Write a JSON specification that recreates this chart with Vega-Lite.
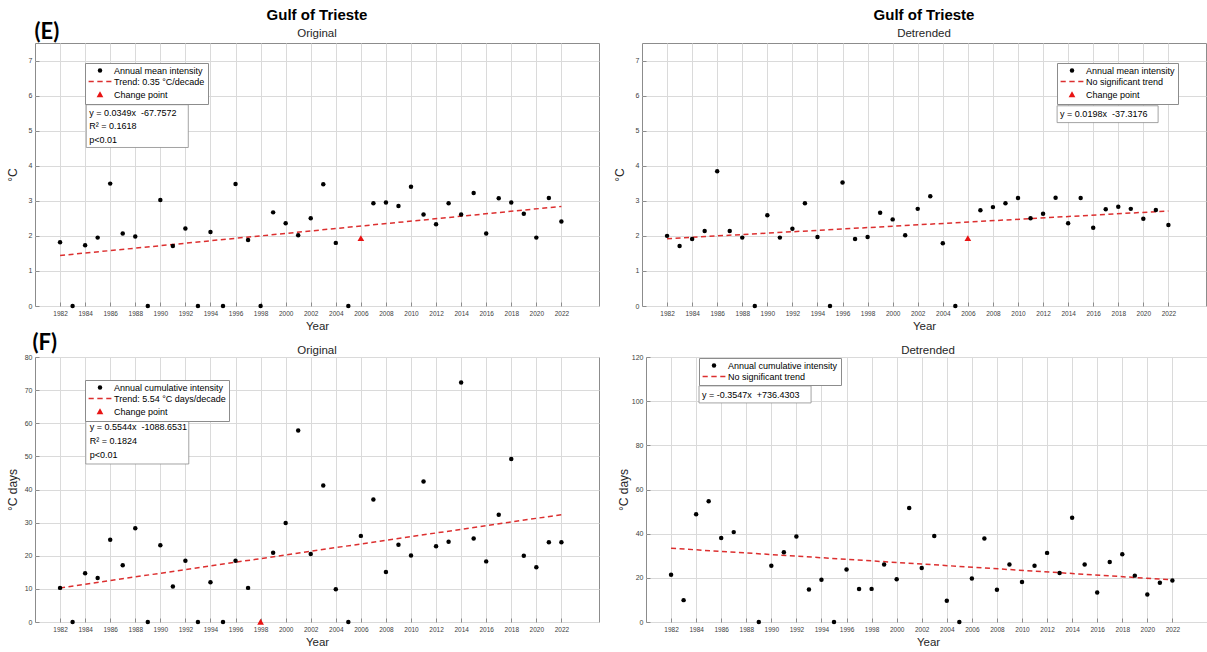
{
  "$schema": "https://vega.github.io/schema/vega-lite/v6.json",
  "padding": {"left": 5, "top": 7, "right": 0, "bottom": 0},
  "background": "white",
  "spacing": -1,
  "resolve": {"scale": {"fill": "independent", "stroke": "independent", "shape": "independent"}},
  "config": {
    "font": "Liberation Sans",
    "view": {"stroke": "#8c8c8c", "strokeWidth": 1},
    "axis": {"grid": true, "tickCount": 100, "labelOverlap": false, "labelFontSize": 6.5, "labelColor": "#404040", "titleFontSize": 11.5, "titleFontWeight": "normal", "titleColor": "#262626", "gridColor": "#dadada", "gridWidth": 1, "domain": false, "tickSize": -4, "tickColor": "#8c8c8c", "labelPadding": 8, "titlePadding": 4},
    "axisY": {"titleFontSize": 12, "titlePadding": 3, "labelFontSize": 7, "labelPadding": 7, "minExtent": 13, "maxExtent": 13, "format": "d"},
    "legend": {"orient": "none", "padding": 3, "strokeColor": "#8c8c8c", "fillColor": "white", "labelFontSize": 9, "labelColor": "black", "symbolSize": 20, "symbolOffset": 7.5, "labelOffset": 9.5, "rowPadding": 1, "labelLimit": 400, "symbolStrokeWidth": 1.6},
    "title": {"font": "Liberation Sans", "color": "black"}
  },
  "vconcat": [
    {
      "title": {"text": "(E)", "anchor": "start", "frame": "bounds", "font": "Lato", "fontSize": 22, "fontWeight": "bold", "dx": 29, "dy": 37, "offset": 0},
      "spacing": 12,
      "resolve": {"scale": {"fill": "independent", "stroke": "independent", "shape": "independent"}},
      "hconcat": [
        {
          "width": 564, "height": 263,
          "title": {"text": "Gulf of Trieste", "subtitle": "Original", "fontSize": 15, "fontWeight": "bold", "subtitleFont": "Liberation Sans", "subtitleFontSize": 11.5, "subtitleColor": "#262626", "subtitlePadding": 5, "offset": 4, "anchor": "middle"},
          "data": {"values": [
            {"year": 1982, "value": 1.82, "series": "Annual mean intensity"},
            {"year": 1983, "value": 0, "series": "Annual mean intensity"},
            {"year": 1984, "value": 1.73, "series": "Annual mean intensity"},
            {"year": 1985, "value": 1.95, "series": "Annual mean intensity"},
            {"year": 1986, "value": 3.49, "series": "Annual mean intensity"},
            {"year": 1987, "value": 2.07, "series": "Annual mean intensity"},
            {"year": 1988, "value": 1.98, "series": "Annual mean intensity"},
            {"year": 1989, "value": 0, "series": "Annual mean intensity"},
            {"year": 1990, "value": 3.02, "series": "Annual mean intensity"},
            {"year": 1991, "value": 1.71, "series": "Annual mean intensity"},
            {"year": 1992, "value": 2.21, "series": "Annual mean intensity"},
            {"year": 1993, "value": 0, "series": "Annual mean intensity"},
            {"year": 1994, "value": 2.11, "series": "Annual mean intensity"},
            {"year": 1995, "value": 0, "series": "Annual mean intensity"},
            {"year": 1996, "value": 3.48, "series": "Annual mean intensity"},
            {"year": 1997, "value": 1.88, "series": "Annual mean intensity"},
            {"year": 1998, "value": 0, "series": "Annual mean intensity"},
            {"year": 1999, "value": 2.67, "series": "Annual mean intensity"},
            {"year": 2000, "value": 2.36, "series": "Annual mean intensity"},
            {"year": 2001, "value": 2.02, "series": "Annual mean intensity"},
            {"year": 2002, "value": 2.5, "series": "Annual mean intensity"},
            {"year": 2003, "value": 3.47, "series": "Annual mean intensity"},
            {"year": 2004, "value": 1.8, "series": "Annual mean intensity"},
            {"year": 2005, "value": 0, "series": "Annual mean intensity"},
            {"year": 2006, "value": 1.93, "series": "Change point"},
            {"year": 2007, "value": 2.93, "series": "Annual mean intensity"},
            {"year": 2008, "value": 2.95, "series": "Annual mean intensity"},
            {"year": 2009, "value": 2.85, "series": "Annual mean intensity"},
            {"year": 2010, "value": 3.4, "series": "Annual mean intensity"},
            {"year": 2011, "value": 2.61, "series": "Annual mean intensity"},
            {"year": 2012, "value": 2.33, "series": "Annual mean intensity"},
            {"year": 2013, "value": 2.93, "series": "Annual mean intensity"},
            {"year": 2014, "value": 2.61, "series": "Annual mean intensity"},
            {"year": 2015, "value": 3.22, "series": "Annual mean intensity"},
            {"year": 2016, "value": 2.07, "series": "Annual mean intensity"},
            {"year": 2017, "value": 3.07, "series": "Annual mean intensity"},
            {"year": 2018, "value": 2.95, "series": "Annual mean intensity"},
            {"year": 2019, "value": 2.63, "series": "Annual mean intensity"},
            {"year": 2020, "value": 1.95, "series": "Annual mean intensity"},
            {"year": 2021, "value": 3.08, "series": "Annual mean intensity"},
            {"year": 2022, "value": 2.41, "series": "Annual mean intensity"},
            {"year": 1982, "value": 1.44, "series": "Trend: 0.35 °C/decade"},
            {"year": 2022, "value": 2.84, "series": "Trend: 0.35 °C/decade"}
          ]},
          "layer": [
            {"data": {"values": [{}]}, "mark": {"type": "rect", "fill": "white", "stroke": "#8c8c8c", "strokeWidth": 0.8},
             "encoding": {"x": {"datum": 1984.09, "type": "quantitative"}, "x2": {"datum": 1992.23}, "y": {"datum": 5.74, "type": "quantitative"}, "y2": {"datum": 4.52}}},
            {"data": {"values": [{}]}, "mark": {"type": "text", "align": "left", "baseline": "top", "fontSize": 9, "lineHeight": 13.5, "color": "black", "text": ["y = 0.0349x\u00a0 -67.7572", "R² = 0.1618", "p<0.01"]},
             "encoding": {"x": {"datum": 1984.33, "type": "quantitative"}, "y": {"datum": 5.62, "type": "quantitative"}}},
            {"transform": [{"filter": "datum.series == 'Trend: 0.35 °C/decade'"}],
             "mark": {"type": "line", "stroke": "#dc2f2f", "strokeWidth": 1.5, "strokeDash": [5, 3.5]},
             "encoding": {
               "x": {"field": "year", "type": "quantitative", "scale": {"domain": [1980, 2025], "nice": false, "zero": false}, "axis": {"title": "Year", "format": "d", "tickCount": 100, "values": [1982,1984,1986,1988,1990,1992,1994,1996,1998,2000,2002,2004,2006,2008,2010,2012,2014,2016,2018,2020,2022]}},
               "y": {"field": "value", "type": "quantitative", "scale": {"domain": [0, 7.5], "nice": false}, "axis": {"title": "°C", "format": "d", "tickCount": 100, "values": [0,1,2,3,4,5,6,7]}}}},
            {"transform": [{"filter": "datum.series != 'Trend: 0.35 °C/decade'"}],
             "mark": {"type": "point", "filled": true, "size": 20, "opacity": 1, "strokeWidth": 1.6},
             "encoding": {
               "x": {"field": "year", "type": "quantitative", "title": "Year"},
               "y": {"field": "value", "type": "quantitative", "title": "°C"},
               "fill": {"field": "series", "type": "nominal", "scale": {"domain": ["Annual mean intensity", "Trend: 0.35 °C/decade", "Change point"], "range": ["black", "#dc2f2f", "#e81414"]}, "legend": {"title": null, "legendX": 50, "legendY": 20, "encode": {"symbols": {"update": {"strokeWidth": {"value": 1.6}, "opacity": {"value": 1}}}}}},
               "stroke": {"field": "series", "type": "nominal", "scale": {"domain": ["Annual mean intensity", "Trend: 0.35 °C/decade", "Change point"], "range": ["transparent", "#dc2f2f", "transparent"]}, "legend": {"title": null, "legendX": 50, "legendY": 20, "encode": {"symbols": {"update": {"strokeWidth": {"value": 1.6}, "opacity": {"value": 1}}}}}},
               "shape": {"field": "series", "type": "nominal", "scale": {"domain": ["Annual mean intensity", "Trend: 0.35 °C/decade", "Change point"], "range": ["circle", "M-5.1,0H-2.8M-1.2,0H1.2M2.8,0H5.1", "M0,-1.4L1.5,1.2L-1.5,1.2Z"]}, "legend": {"title": null, "legendX": 50, "legendY": 20, "encode": {"symbols": {"update": {"strokeWidth": {"value": 1.6}, "opacity": {"value": 1}}}}}}
             }}
          ]
        },
        {
          "width": 564, "height": 263,
          "title": {"text": "Gulf of Trieste", "subtitle": "Detrended", "fontSize": 15, "fontWeight": "bold", "subtitleFont": "Liberation Sans", "subtitleFontSize": 11.5, "subtitleColor": "#262626", "subtitlePadding": 5, "offset": 4, "anchor": "middle"},
          "data": {"values": [
            {"year": 1982, "value": 2.0, "series": "Annual mean intensity"},
            {"year": 1983, "value": 1.71, "series": "Annual mean intensity"},
            {"year": 1984, "value": 1.91, "series": "Annual mean intensity"},
            {"year": 1985, "value": 2.14, "series": "Annual mean intensity"},
            {"year": 1986, "value": 3.84, "series": "Annual mean intensity"},
            {"year": 1987, "value": 2.14, "series": "Annual mean intensity"},
            {"year": 1988, "value": 1.95, "series": "Annual mean intensity"},
            {"year": 1989, "value": 0, "series": "Annual mean intensity"},
            {"year": 1990, "value": 2.59, "series": "Annual mean intensity"},
            {"year": 1991, "value": 1.95, "series": "Annual mean intensity"},
            {"year": 1992, "value": 2.2, "series": "Annual mean intensity"},
            {"year": 1993, "value": 2.93, "series": "Annual mean intensity"},
            {"year": 1994, "value": 1.97, "series": "Annual mean intensity"},
            {"year": 1995, "value": 0, "series": "Annual mean intensity"},
            {"year": 1996, "value": 3.52, "series": "Annual mean intensity"},
            {"year": 1997, "value": 1.91, "series": "Annual mean intensity"},
            {"year": 1998, "value": 1.97, "series": "Annual mean intensity"},
            {"year": 1999, "value": 2.66, "series": "Annual mean intensity"},
            {"year": 2000, "value": 2.47, "series": "Annual mean intensity"},
            {"year": 2001, "value": 2.02, "series": "Annual mean intensity"},
            {"year": 2002, "value": 2.77, "series": "Annual mean intensity"},
            {"year": 2003, "value": 3.13, "series": "Annual mean intensity"},
            {"year": 2004, "value": 1.79, "series": "Annual mean intensity"},
            {"year": 2005, "value": 0, "series": "Annual mean intensity"},
            {"year": 2006, "value": 1.93, "series": "Change point"},
            {"year": 2007, "value": 2.73, "series": "Annual mean intensity"},
            {"year": 2008, "value": 2.82, "series": "Annual mean intensity"},
            {"year": 2009, "value": 2.93, "series": "Annual mean intensity"},
            {"year": 2010, "value": 3.08, "series": "Annual mean intensity"},
            {"year": 2011, "value": 2.5, "series": "Annual mean intensity"},
            {"year": 2012, "value": 2.63, "series": "Annual mean intensity"},
            {"year": 2013, "value": 3.09, "series": "Annual mean intensity"},
            {"year": 2014, "value": 2.36, "series": "Annual mean intensity"},
            {"year": 2015, "value": 3.08, "series": "Annual mean intensity"},
            {"year": 2016, "value": 2.23, "series": "Annual mean intensity"},
            {"year": 2017, "value": 2.76, "series": "Annual mean intensity"},
            {"year": 2018, "value": 2.83, "series": "Annual mean intensity"},
            {"year": 2019, "value": 2.77, "series": "Annual mean intensity"},
            {"year": 2020, "value": 2.49, "series": "Annual mean intensity"},
            {"year": 2021, "value": 2.74, "series": "Annual mean intensity"},
            {"year": 2022, "value": 2.31, "series": "Annual mean intensity"},
            {"year": 1982, "value": 1.92, "series": "No significant trend"},
            {"year": 2022, "value": 2.71, "series": "No significant trend"}
          ]},
          "layer": [
            {"data": {"values": [{}]}, "mark": {"type": "rect", "fill": "white", "stroke": "#8c8c8c", "strokeWidth": 0.8},
             "encoding": {"x": {"datum": 2013.12, "type": "quantitative"}, "x2": {"datum": 2021.18}, "y": {"datum": 5.71, "type": "quantitative"}, "y2": {"datum": 5.23}}},
            {"data": {"values": [{}]}, "mark": {"type": "text", "align": "left", "baseline": "middle", "fontSize": 9, "color": "black", "text": "y = 0.0198x\u00a0 -37.3176"},
             "encoding": {"x": {"datum": 2013.36, "type": "quantitative"}, "y": {"datum": 5.47, "type": "quantitative"}}},
            {"transform": [{"filter": "datum.series == 'No significant trend'"}],
             "mark": {"type": "line", "stroke": "#dc2f2f", "strokeWidth": 1.5, "strokeDash": [5, 3.5]},
             "encoding": {
               "x": {"field": "year", "type": "quantitative", "scale": {"domain": [1980, 2025], "nice": false, "zero": false}, "axis": {"title": "Year", "format": "d", "tickCount": 100, "values": [1982,1984,1986,1988,1990,1992,1994,1996,1998,2000,2002,2004,2006,2008,2010,2012,2014,2016,2018,2020,2022]}},
               "y": {"field": "value", "type": "quantitative", "scale": {"domain": [0, 7.5], "nice": false}, "axis": {"title": "°C", "format": "d", "tickCount": 100, "values": [0,1,2,3,4,5,6,7]}}}},
            {"transform": [{"filter": "datum.series != 'No significant trend'"}],
             "mark": {"type": "point", "filled": true, "size": 20, "opacity": 1, "strokeWidth": 1.6},
             "encoding": {
               "x": {"field": "year", "type": "quantitative", "title": "Year"},
               "y": {"field": "value", "type": "quantitative", "title": "°C"},
               "fill": {"field": "series", "type": "nominal", "scale": {"domain": ["Annual mean intensity", "No significant trend", "Change point"], "range": ["black", "#dc2f2f", "#e81414"]}, "legend": {"title": null, "legendX": 415, "legendY": 20, "encode": {"symbols": {"update": {"strokeWidth": {"value": 1.6}, "opacity": {"value": 1}}}}}},
               "stroke": {"field": "series", "type": "nominal", "scale": {"domain": ["Annual mean intensity", "No significant trend", "Change point"], "range": ["transparent", "#dc2f2f", "transparent"]}, "legend": {"title": null, "legendX": 415, "legendY": 20, "encode": {"symbols": {"update": {"strokeWidth": {"value": 1.6}, "opacity": {"value": 1}}}}}},
               "shape": {"field": "series", "type": "nominal", "scale": {"domain": ["Annual mean intensity", "No significant trend", "Change point"], "range": ["circle", "M-5.1,0H-2.8M-1.2,0H1.2M2.8,0H5.1", "M0,-1.4L1.5,1.2L-1.5,1.2Z"]}, "legend": {"title": null, "legendX": 415, "legendY": 20, "encode": {"symbols": {"update": {"strokeWidth": {"value": 1.6}, "opacity": {"value": 1}}}}}}
             }}
          ]
        }
      ]
    },
    {
      "title": {"text": "(F)", "anchor": "start", "frame": "bounds", "font": "Lato", "fontSize": 22, "fontWeight": "bold", "dx": 27, "dy": 11, "offset": 0},
      "spacing": 16,
      "resolve": {"scale": {"fill": "independent", "stroke": "independent", "shape": "independent"}},
      "hconcat": [
        {
          "width": 564, "height": 265,
          "title": {"text": "Original", "fontSize": 11.5, "fontWeight": "normal", "color": "#262626", "offset": -3, "anchor": "middle"},
          "data": {"values": [
            {"year": 1982, "value": 10.3, "series": "Annual cumulative intensity"},
            {"year": 1983, "value": 0, "series": "Annual cumulative intensity"},
            {"year": 1984, "value": 14.7, "series": "Annual cumulative intensity"},
            {"year": 1985, "value": 13.3, "series": "Annual cumulative intensity"},
            {"year": 1986, "value": 24.8, "series": "Annual cumulative intensity"},
            {"year": 1987, "value": 17.1, "series": "Annual cumulative intensity"},
            {"year": 1988, "value": 28.3, "series": "Annual cumulative intensity"},
            {"year": 1989, "value": 0, "series": "Annual cumulative intensity"},
            {"year": 1990, "value": 23.2, "series": "Annual cumulative intensity"},
            {"year": 1991, "value": 10.7, "series": "Annual cumulative intensity"},
            {"year": 1992, "value": 18.5, "series": "Annual cumulative intensity"},
            {"year": 1993, "value": 0, "series": "Annual cumulative intensity"},
            {"year": 1994, "value": 12.0, "series": "Annual cumulative intensity"},
            {"year": 1995, "value": 0, "series": "Annual cumulative intensity"},
            {"year": 1996, "value": 18.5, "series": "Annual cumulative intensity"},
            {"year": 1997, "value": 10.3, "series": "Annual cumulative intensity"},
            {"year": 1998, "value": 0, "series": "Change point"},
            {"year": 1999, "value": 20.9, "series": "Annual cumulative intensity"},
            {"year": 2000, "value": 29.9, "series": "Annual cumulative intensity"},
            {"year": 2001, "value": 57.8, "series": "Annual cumulative intensity"},
            {"year": 2002, "value": 20.5, "series": "Annual cumulative intensity"},
            {"year": 2003, "value": 41.2, "series": "Annual cumulative intensity"},
            {"year": 2004, "value": 9.9, "series": "Annual cumulative intensity"},
            {"year": 2005, "value": 0, "series": "Annual cumulative intensity"},
            {"year": 2006, "value": 26.0, "series": "Annual cumulative intensity"},
            {"year": 2007, "value": 37.0, "series": "Annual cumulative intensity"},
            {"year": 2008, "value": 15.1, "series": "Annual cumulative intensity"},
            {"year": 2009, "value": 23.3, "series": "Annual cumulative intensity"},
            {"year": 2010, "value": 20.1, "series": "Annual cumulative intensity"},
            {"year": 2011, "value": 42.4, "series": "Annual cumulative intensity"},
            {"year": 2012, "value": 22.9, "series": "Annual cumulative intensity"},
            {"year": 2013, "value": 24.2, "series": "Annual cumulative intensity"},
            {"year": 2014, "value": 72.3, "series": "Annual cumulative intensity"},
            {"year": 2015, "value": 25.2, "series": "Annual cumulative intensity"},
            {"year": 2016, "value": 18.3, "series": "Annual cumulative intensity"},
            {"year": 2017, "value": 32.4, "series": "Annual cumulative intensity"},
            {"year": 2018, "value": 49.2, "series": "Annual cumulative intensity"},
            {"year": 2019, "value": 20.0, "series": "Annual cumulative intensity"},
            {"year": 2020, "value": 16.5, "series": "Annual cumulative intensity"},
            {"year": 2021, "value": 24.1, "series": "Annual cumulative intensity"},
            {"year": 2022, "value": 24.1, "series": "Annual cumulative intensity"},
            {"year": 1982, "value": 10.3, "series": "Trend: 5.54 °C days/decade"},
            {"year": 2022, "value": 32.4, "series": "Trend: 5.54 °C days/decade"}
          ]},
          "layer": [
            {"data": {"values": [{}]}, "mark": {"type": "rect", "fill": "white", "stroke": "#8c8c8c", "strokeWidth": 0.8},
             "encoding": {"x": {"datum": 1984.05, "type": "quantitative"}, "x2": {"datum": 1992.27}, "y": {"datum": 60.7, "type": "quantitative"}, "y2": {"datum": 47.7}}},
            {"data": {"values": [{}]}, "mark": {"type": "text", "align": "left", "baseline": "top", "fontSize": 9, "lineHeight": 14, "color": "black", "text": ["y = 0.5544x\u00a0 -1088.6531", "R² = 0.1824", "p<0.01"]},
             "encoding": {"x": {"datum": 1984.37, "type": "quantitative"}, "y": {"datum": 60.1, "type": "quantitative"}}},
            {"transform": [{"filter": "datum.series == 'Trend: 5.54 °C days/decade'"}],
             "mark": {"type": "line", "stroke": "#dc2f2f", "strokeWidth": 1.5, "strokeDash": [5, 3.5]},
             "encoding": {
               "x": {"field": "year", "type": "quantitative", "scale": {"domain": [1980, 2025], "nice": false, "zero": false}, "axis": {"title": "Year", "format": "d", "tickCount": 100, "values": [1982,1984,1986,1988,1990,1992,1994,1996,1998,2000,2002,2004,2006,2008,2010,2012,2014,2016,2018,2020,2022]}},
               "y": {"field": "value", "type": "quantitative", "scale": {"domain": [0, 80], "nice": false}, "axis": {"title": "°C days", "format": "d", "tickCount": 100, "values": [0,10,20,30,40,50,60,70,80]}}}},
            {"transform": [{"filter": "datum.series != 'Trend: 5.54 °C days/decade'"}],
             "mark": {"type": "point", "filled": true, "size": 20, "opacity": 1, "strokeWidth": 1.6},
             "encoding": {
               "x": {"field": "year", "type": "quantitative", "title": "Year"},
               "y": {"field": "value", "type": "quantitative", "title": "°C days"},
               "fill": {"field": "series", "type": "nominal", "scale": {"domain": ["Annual cumulative intensity", "Trend: 5.54 °C days/decade", "Change point"], "range": ["black", "#dc2f2f", "#e81414"]}, "legend": {"title": null, "legendX": 50, "legendY": 23, "encode": {"symbols": {"update": {"strokeWidth": {"value": 1.6}, "opacity": {"value": 1}}}}}},
               "stroke": {"field": "series", "type": "nominal", "scale": {"domain": ["Annual cumulative intensity", "Trend: 5.54 °C days/decade", "Change point"], "range": ["transparent", "#dc2f2f", "transparent"]}, "legend": {"title": null, "legendX": 50, "legendY": 23, "encode": {"symbols": {"update": {"strokeWidth": {"value": 1.6}, "opacity": {"value": 1}}}}}},
               "shape": {"field": "series", "type": "nominal", "scale": {"domain": ["Annual cumulative intensity", "Trend: 5.54 °C days/decade", "Change point"], "range": ["circle", "M-5.1,0H-2.8M-1.2,0H1.2M2.8,0H5.1", "M0,-1.4L1.5,1.2L-1.5,1.2Z"]}, "legend": {"title": null, "legendX": 50, "legendY": 23, "encode": {"symbols": {"update": {"strokeWidth": {"value": 1.6}, "opacity": {"value": 1}}}}}}
             }}
          ]
        },
        {
          "width": 564, "height": 265,
          "title": {"text": "Detrended", "fontSize": 11.5, "fontWeight": "normal", "color": "#262626", "offset": -3, "anchor": "middle"},
          "data": {"values": [
            {"year": 1982, "value": 21.4, "series": "Annual cumulative intensity"},
            {"year": 1983, "value": 9.9, "series": "Annual cumulative intensity"},
            {"year": 1984, "value": 48.8, "series": "Annual cumulative intensity"},
            {"year": 1985, "value": 54.7, "series": "Annual cumulative intensity"},
            {"year": 1986, "value": 38.0, "series": "Annual cumulative intensity"},
            {"year": 1987, "value": 40.7, "series": "Annual cumulative intensity"},
            {"year": 1989, "value": 0, "series": "Annual cumulative intensity"},
            {"year": 1990, "value": 25.5, "series": "Annual cumulative intensity"},
            {"year": 1991, "value": 31.6, "series": "Annual cumulative intensity"},
            {"year": 1992, "value": 38.7, "series": "Annual cumulative intensity"},
            {"year": 1993, "value": 14.7, "series": "Annual cumulative intensity"},
            {"year": 1994, "value": 19.1, "series": "Annual cumulative intensity"},
            {"year": 1995, "value": 0, "series": "Annual cumulative intensity"},
            {"year": 1996, "value": 23.8, "series": "Annual cumulative intensity"},
            {"year": 1997, "value": 14.9, "series": "Annual cumulative intensity"},
            {"year": 1998, "value": 15.0, "series": "Annual cumulative intensity"},
            {"year": 1999, "value": 26.0, "series": "Annual cumulative intensity"},
            {"year": 2000, "value": 19.4, "series": "Annual cumulative intensity"},
            {"year": 2001, "value": 51.6, "series": "Annual cumulative intensity"},
            {"year": 2002, "value": 24.5, "series": "Annual cumulative intensity"},
            {"year": 2003, "value": 38.9, "series": "Annual cumulative intensity"},
            {"year": 2004, "value": 9.6, "series": "Annual cumulative intensity"},
            {"year": 2005, "value": 0, "series": "Annual cumulative intensity"},
            {"year": 2006, "value": 19.7, "series": "Annual cumulative intensity"},
            {"year": 2007, "value": 37.8, "series": "Annual cumulative intensity"},
            {"year": 2008, "value": 14.6, "series": "Annual cumulative intensity"},
            {"year": 2009, "value": 26.0, "series": "Annual cumulative intensity"},
            {"year": 2010, "value": 18.1, "series": "Annual cumulative intensity"},
            {"year": 2011, "value": 25.5, "series": "Annual cumulative intensity"},
            {"year": 2012, "value": 31.3, "series": "Annual cumulative intensity"},
            {"year": 2013, "value": 22.2, "series": "Annual cumulative intensity"},
            {"year": 2014, "value": 47.2, "series": "Annual cumulative intensity"},
            {"year": 2015, "value": 26.0, "series": "Annual cumulative intensity"},
            {"year": 2016, "value": 13.4, "series": "Annual cumulative intensity"},
            {"year": 2017, "value": 27.2, "series": "Annual cumulative intensity"},
            {"year": 2018, "value": 30.7, "series": "Annual cumulative intensity"},
            {"year": 2019, "value": 21.0, "series": "Annual cumulative intensity"},
            {"year": 2020, "value": 12.5, "series": "Annual cumulative intensity"},
            {"year": 2021, "value": 17.8, "series": "Annual cumulative intensity"},
            {"year": 2022, "value": 18.8, "series": "Annual cumulative intensity"},
            {"year": 1982, "value": 33.4, "series": "No significant trend"},
            {"year": 2022, "value": 19.1, "series": "No significant trend"}
          ]},
          "layer": [
            {"data": {"values": [{}]}, "mark": {"type": "rect", "fill": "white", "stroke": "#8c8c8c", "strokeWidth": 0.8},
             "encoding": {"x": {"datum": 1984.23, "type": "quantitative"}, "x2": {"datum": 1993.17}, "y": {"datum": 106.9, "type": "quantitative"}, "y2": {"datum": 99.2}}},
            {"data": {"values": [{}]}, "mark": {"type": "text", "align": "left", "baseline": "middle", "fontSize": 9, "color": "black", "text": "y = -0.3547x\u00a0 +736.4303"},
             "encoding": {"x": {"datum": 1984.47, "type": "quantitative"}, "y": {"datum": 103.0, "type": "quantitative"}}},
            {"transform": [{"filter": "datum.series == 'No significant trend'"}],
             "mark": {"type": "line", "stroke": "#dc2f2f", "strokeWidth": 1.5, "strokeDash": [5, 3.5]},
             "encoding": {
               "x": {"field": "year", "type": "quantitative", "scale": {"domain": [1980, 2025], "nice": false, "zero": false}, "axis": {"title": "Year", "format": "d", "tickCount": 100, "values": [1982,1984,1986,1988,1990,1992,1994,1996,1998,2000,2002,2004,2006,2008,2010,2012,2014,2016,2018,2020,2022]}},
               "y": {"field": "value", "type": "quantitative", "scale": {"domain": [0, 120], "nice": false}, "axis": {"title": "°C days", "format": "d", "tickCount": 100, "values": [0,20,40,60,80,100,120]}}}},
            {"transform": [{"filter": "datum.series != 'No significant trend'"}],
             "mark": {"type": "point", "filled": true, "size": 20, "opacity": 1, "strokeWidth": 1.6},
             "encoding": {
               "x": {"field": "year", "type": "quantitative", "title": "Year"},
               "y": {"field": "value", "type": "quantitative", "title": "°C days"},
               "fill": {"field": "series", "type": "nominal", "scale": {"domain": ["Annual cumulative intensity", "No significant trend"], "range": ["black", "#dc2f2f"]}, "legend": {"title": null, "legendX": 53, "legendY": 1, "encode": {"symbols": {"update": {"strokeWidth": {"value": 1.6}, "opacity": {"value": 1}}}}}},
               "stroke": {"field": "series", "type": "nominal", "scale": {"domain": ["Annual cumulative intensity", "No significant trend"], "range": ["transparent", "#dc2f2f"]}, "legend": {"title": null, "legendX": 53, "legendY": 1, "encode": {"symbols": {"update": {"strokeWidth": {"value": 1.6}, "opacity": {"value": 1}}}}}},
               "shape": {"field": "series", "type": "nominal", "scale": {"domain": ["Annual cumulative intensity", "No significant trend"], "range": ["circle", "M-5.1,0H-2.8M-1.2,0H1.2M2.8,0H5.1"]}, "legend": {"title": null, "legendX": 53, "legendY": 1, "encode": {"symbols": {"update": {"strokeWidth": {"value": 1.6}, "opacity": {"value": 1}}}}}}
             }}
          ]
        }
      ]
    }
  ]
}
